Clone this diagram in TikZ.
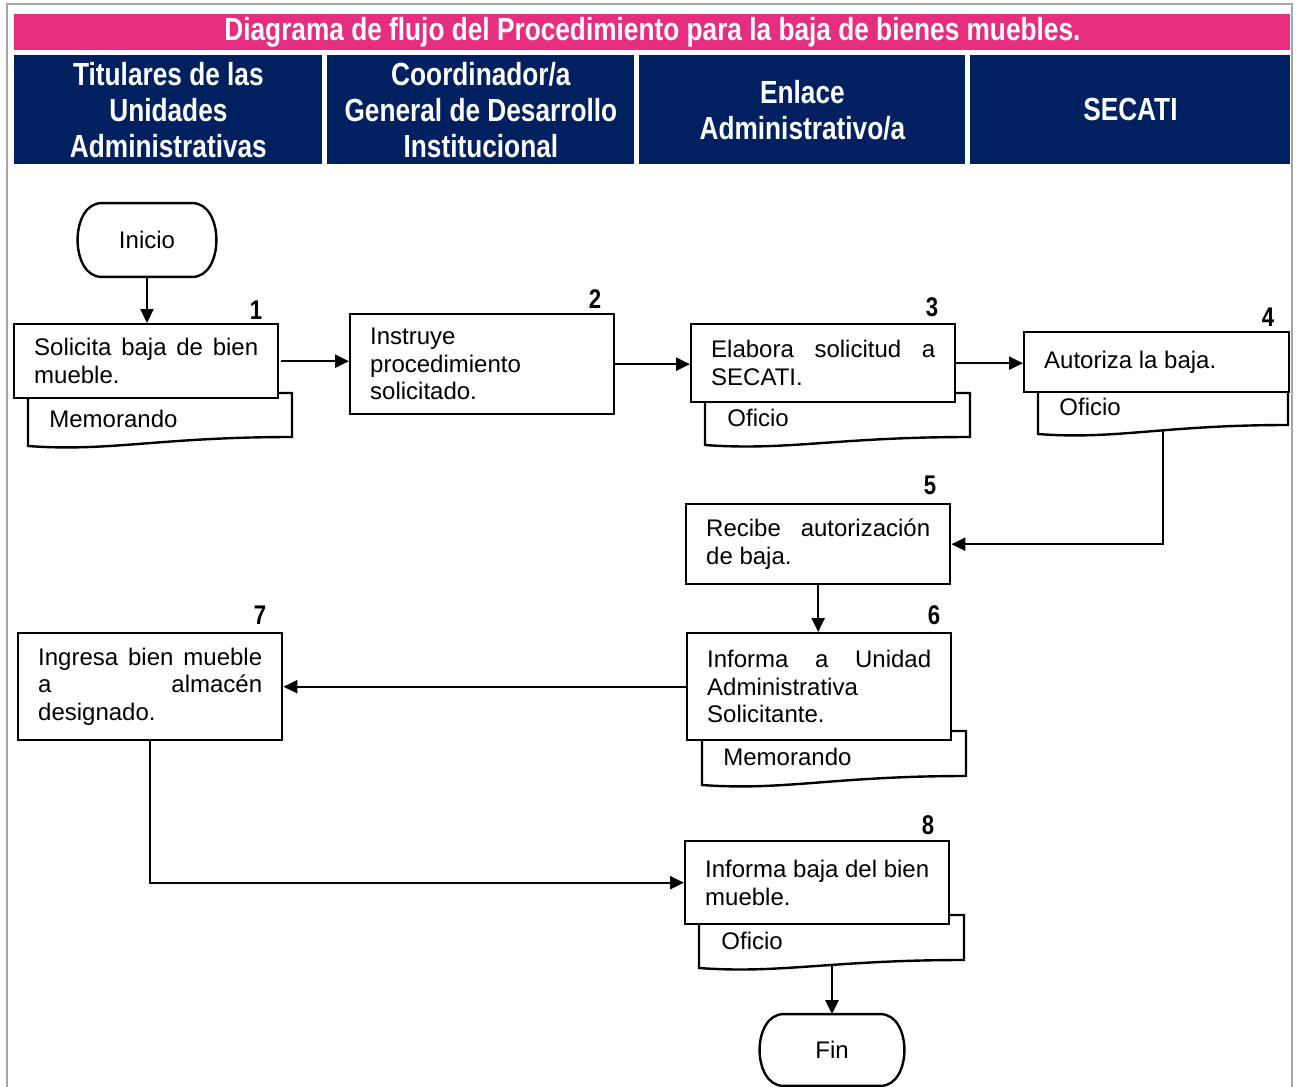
\documentclass[tikz,border=0pt]{standalone}
\usepackage{fontspec}
\setmainfont{Liberation Sans}
\newfontfamily\narrowf[FakeStretch=0.82]{Liberation Sans}
\usetikzlibrary{arrows.meta,calc}
\definecolor{pinkbar}{RGB}{230,46,128}
\definecolor{navy}{RGB}{0,32,96}
\definecolor{framegray}{RGB}{165,165,165}
\newcommand\docshape[5]{%
  \draw[line width=1.2pt, fill=white] (#1,#3) -- (#2,#3) -- (#2,#4)
    .. controls ({#1+0.5*(#2-#1)},#4) and ({#1+0.31*(#2-#1)},{#5+6}) .. (#1,#5) -- cycle;}
\newcommand\termshape[1]{%
  \draw[line width=1.2pt] ([xshift=16pt]#1.north west) -- ([xshift=-16pt]#1.north east)
    .. controls (#1.north east) and (#1.south east) .. ([xshift=-16pt]#1.south east)
    -- ([xshift=16pt]#1.south west)
    .. controls (#1.south west) and (#1.north west) .. cycle;}
\begin{document}
\begin{tikzpicture}[x=0.5pt,y=-0.5pt,
  stepbox/.style={draw, line width=1.2pt, fill=white, inner xsep=10pt, inner ysep=0pt,
    text width=112pt, align=justify, font=\fontsize{12}{13.8}\selectfont, anchor=north west},
  doctext/.style={anchor=west, inner sep=0pt, font=\fontsize{12}{13.8}\selectfont},
  termtext/.style={inner sep=0pt, font=\fontsize{12}{13.8}\selectfont},
  num/.style={inner sep=0pt, font=\narrowf\bfseries\fontsize{13.5}{13.5}\selectfont},
  lane/.style={fill=navy, text=white, inner sep=0pt, anchor=north west, minimum height=54.5pt,
    align=center, font=\narrowf\bfseries\fontsize{16}{18}\selectfont},
  arr/.style={line width=1.15pt, -{Triangle[length=7pt,width=6.5pt]}}
]
\useasboundingbox (0,0) rectangle (1297,1087);
% outer frame
\draw[framegray, line width=1pt] (7,1087) -- (7,4) -- (1292,4) -- (1292,1087);
% title bar
\node[fill=pinkbar, text=white, inner sep=0pt, anchor=north west, minimum width=638pt,
  minimum height=18pt, font=\narrowf\bfseries\fontsize{16}{18}\selectfont] (title) at (14,14)
  {Diagrama de flujo del Procedimiento para la baja de bienes muebles.};
% lane headers
\node[lane, minimum width=154pt] (l1) at (14,55) {Titulares de las\\Unidades\\Administrativas};
\node[lane, minimum width=153.5pt] (l2) at (327,55) {Coordinador/a\\General de Desarrollo\\Institucional};
\node[lane, minimum width=163pt] (l3) at (639,55) {Enlace\\Administrativo/a};
\node[lane, minimum width=160pt] (l4) at (970,55) {SECATI};

% start
\node[termtext, minimum width=77pt, minimum height=36.5pt] (ini) at (147,240) {Inicio};
\termshape{ini}

% step 1
\docshape{28}{292}{393}{437}{446}
\node[doctext] (m1) at (49,419) {Memorando};
\node[stepbox, minimum height=37pt] (b1) at (13,323) {Solicita baja de bien\linebreak mueble.};
\node[num] (n1) at (256,310) {1};

% step 2
\node[stepbox, minimum height=50pt, align=left] (b2) at (349,313) {Instruye\\procedimiento\\solicitado.};
\node[num] (n2) at (595,299) {2};

% step 3
\docshape{705}{970}{393}{437}{445}
\node[doctext] (m3) at (727,418) {Oficio};
\node[stepbox, minimum height=39pt] (b3) at (690,323) {Elabora solicitud a\linebreak SECATI.};
\node[num] (n3) at (932,307) {3};

% step 4
\docshape{1038}{1288}{391}{425}{434}
\node[doctext] (m4) at (1059,407) {Oficio};
\node[stepbox, minimum height=30pt, text width=112.5pt] (b4) at (1023,331) {Autoriza la baja.};
\node[num] (n4) at (1268,317) {4};
\coordinate (d4b) at (1163,431);

% step 5
\node[stepbox, minimum height=40pt] (b5) at (685,503) {Recibe autorización\linebreak de baja.};
\node[num] (n5) at (930,485) {5};

% step 6
\docshape{702}{966}{731}{776}{785}
\node[doctext] (m6) at (723,757) {Memorando};
\node[stepbox, minimum height=53.5pt] (b6) at (686,632) {Informa a Unidad\linebreak Administrativa\\Solicitante.};
\node[num] (n6) at (934,615) {6};

% step 7
\node[stepbox, minimum height=53.5pt] (b7) at (17,632) {Ingresa bien mueble\linebreak a almacén\linebreak designado.};
\node[num] (n7) at (260,615) {7};

% step 8
\docshape{699}{964}{915}{960}{968}
\node[doctext] (m8) at (721,941) {Oficio};
\node[stepbox, minimum height=41.5pt] (b8) at (684,840) {Informa baja del bien\linebreak mueble.};
\node[num] (n8) at (928,825) {8};
\coordinate (d8b) at (832,965);

% end
\node[termtext, minimum width=80pt, minimum height=35.5pt] (fin) at (832,1050) {Fin};
\termshape{fin}

% connectors
\draw[arr] (ini.south) -- (ini.south |- b1.north);
\draw[arr] ([xshift=1pt]b1.east) -- (b1.east -| b2.west);
\draw[arr] (b2.east) -- (b2.east -| b3.west);
\draw[arr] (b3.east) -- (b3.east -| b4.west);
\draw[arr] (d4b) |- (b5.east);
\draw[arr] (b5.south) -- (b5.south |- b6.north);
\draw[arr] (b6.west) -- (b6.west -| b7.east);
\draw[arr] (b7.south) |- (b8.west);
\draw[arr] (d8b) -- (fin.north);
\end{tikzpicture}
\end{document}
